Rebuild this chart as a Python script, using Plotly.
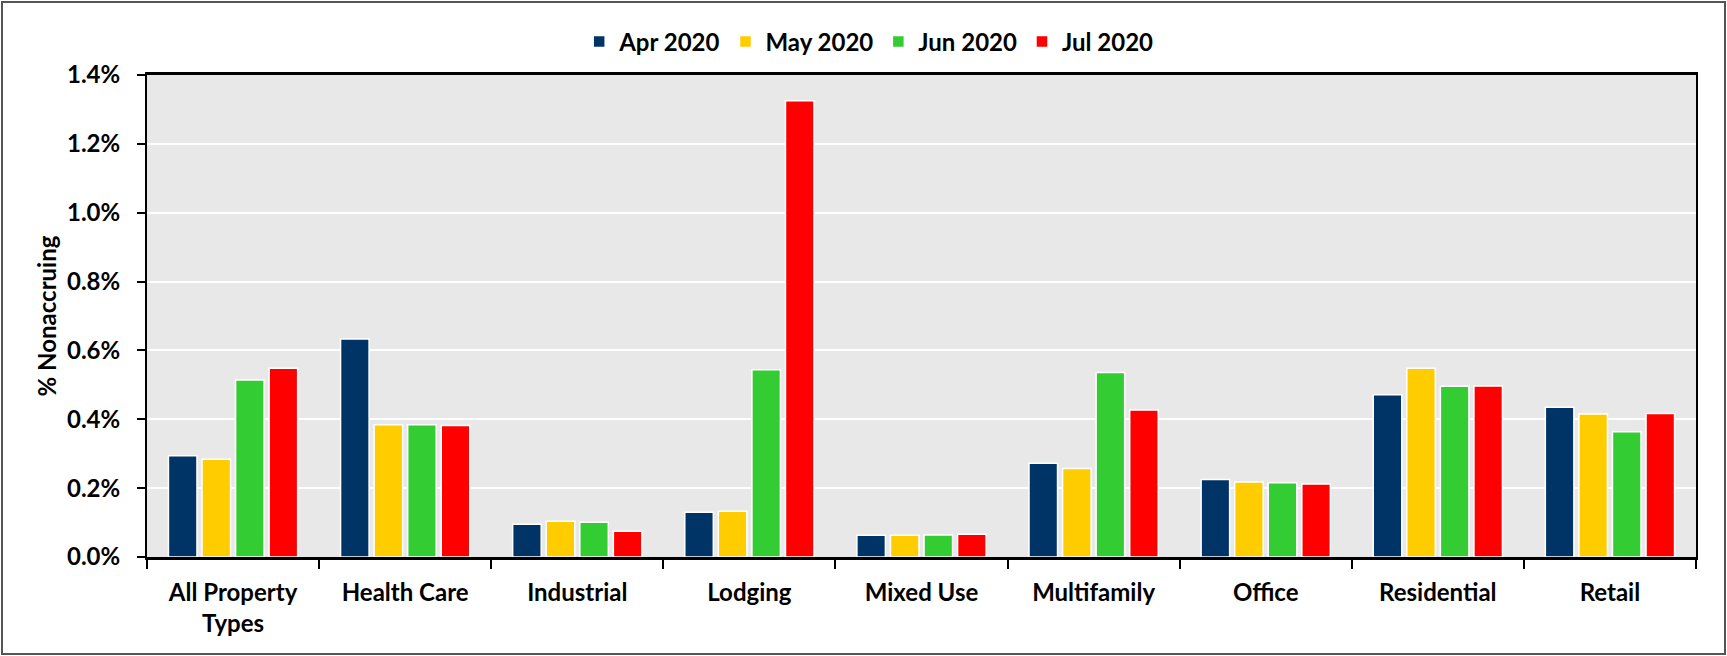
import plotly.graph_objects as go

# Nonaccruing share of loans by property type (percent)
categories = ["All Property<br>Types", "Health Care", "Industrial", "Lodging", "Mixed Use",
              "Multifamily", "Office", "Residential", "Retail"]
months = ["Apr 2020", "May 2020", "Jun 2020", "Jul 2020"]
apr_2020 = [0.294, 0.633, 0.095, 0.130, 0.063, 0.272, 0.225, 0.471, 0.435]
may_2020 = [0.284, 0.384, 0.104, 0.133, 0.063, 0.257, 0.218, 0.548, 0.415]
jun_2020 = [0.514, 0.384, 0.101, 0.544, 0.064, 0.536, 0.216, 0.496, 0.364]
jul_2020 = [0.548, 0.382, 0.075, 1.325, 0.066, 0.427, 0.212, 0.497, 0.417]
series = [apr_2020, may_2020, jun_2020, jul_2020]
colors = ["#003366", "#FFCC00", "#33CC33", "#FF0000"]

W, H = 1727, 656
ML, MR, MT, MB = 147, 31, 75, 99
FONT = "Lato"
FS = 24

fig = go.Figure()
for name, vals, col in zip(months, series, colors):
    fig.add_trace(go.Bar(
        x=categories, y=vals, name=name,
        marker=dict(color=col, line=dict(color="white", width=1.5)),
    ))

pw = W - ML - MR
ph = H - MT - MB


def px_to_paper_x(px):
    return (px - ML) / pw


def px_to_paper_y(py):
    # py measured from the top of the page
    return (H - MB - py) / ph


fig.update_layout(
    width=W, height=H,
    margin=dict(l=ML, r=MR, t=MT, b=MB, autoexpand=False),
    paper_bgcolor="white",
    plot_bgcolor="#E8E8E8",
    barmode="group",
    bargap=0.22,
    bargroupgap=0.15,
    font=dict(family=FONT, size=FS, color="black", weight=700),
    legend=dict(
        orientation="h",
        xref="container", x=0.503, xanchor="center",
        yref="container", y=1 - 42 / H, yanchor="middle",
        font=dict(family=FONT, size=FS, color="black", weight=700),
        itemwidth=30,
        traceorder="normal",
    ),
    xaxis=dict(
        type="category",
        tickson="boundaries",
        ticks="outside", ticklen=9, tickwidth=1.5, tickcolor="black",
        showline=True, linecolor="black", linewidth=3, mirror=True,
        showgrid=False,
        ticklabelstandoff=12,
        tickfont=dict(family=FONT, size=FS, color="black", weight=700),
    ),
    yaxis=dict(
        range=[0, 1.4], dtick=0.2, tickformat=".1f", ticksuffix="%",
        ticks="outside", ticklen=8, tickwidth=1.5, tickcolor="black",
        showline=True, linecolor="black", linewidth=2, mirror=True,
        showgrid=True, gridcolor="white", gridwidth=2,
        zeroline=False,
        ticklabelstandoff=12,
        tickfont=dict(family=FONT, size=FS, color="black", weight=700),
        title=dict(text="% Nonaccruing", standoff=4,
                   font=dict(family=FONT, size=FS, color="black", weight=700)),
    ),
)

# outer frame around the whole chart
fig.add_shape(
    type="rect", xref="paper", yref="paper",
    x0=px_to_paper_x(2), x1=px_to_paper_x(W - 2),
    y0=px_to_paper_y(H - 2), y1=px_to_paper_y(2),
    line=dict(color="#555555", width=2), fillcolor="rgba(0,0,0,0)",
    layer="below",
)

fig.write_html("out.html")
